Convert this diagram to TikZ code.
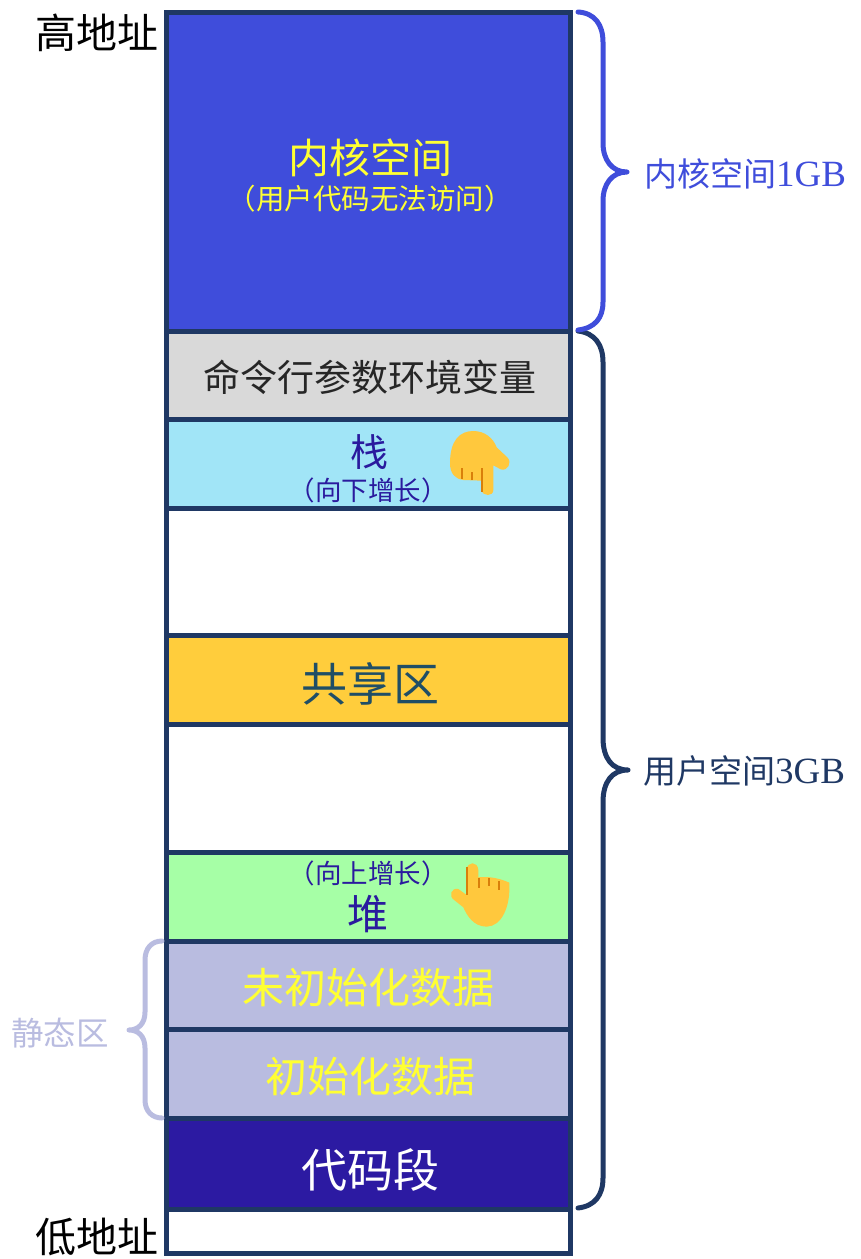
\documentclass[tikz,border=0pt]{standalone}
\usepackage{fontspec}
\setmainfont{Liberation Serif}
\newfontfamily\cjk{Noto Sans CJK SC}
\definecolor{edgec}{HTML}{1F3864}
\definecolor{kernc}{HTML}{3F4DDB}
\definecolor{greyc}{HTML}{D9D9D9}
\definecolor{stackc}{HTML}{A1E5F7}
\definecolor{sharec}{HTML}{FFCD3C}
\definecolor{heapc}{HTML}{A6FFA6}
\definecolor{statc}{HTML}{B9BCE0}
\definecolor{codec}{HTML}{2C1AA2}
\definecolor{yelc}{HTML}{FFFF33}
\definecolor{indc}{HTML}{2A1A9E}
\definecolor{tealc}{HTML}{1F4E66}
\definecolor{handc}{HTML}{FFC83D}
\definecolor{foldc}{HTML}{D97F0A}
\newcommand{\fs}[1]{\fontsize{#1}{#1}\selectfont\cjk}
\newcommand{\lat}[1]{\fontsize{#1}{#1}\selectfont\rmfamily}
\begin{document}
\begin{tikzpicture}[x=1pt,y=-1pt,
  seg/.style={draw=edgec,line width=5pt,inner sep=0pt,outer sep=0pt,minimum width=404pt},
  txt/.style={inner sep=0pt,outer sep=0pt,text depth=0pt},
  brace/.style={line width=5pt,line cap=round,line join=round},
  hand/.style={fill=handc,draw=none},
  fold/.style={draw=foldc,line width=2.2pt}]
\useasboundingbox (0,0) rectangle (861,1259);
\node[seg,fill=kernc,minimum height=319pt] (kern) at (368,171.5) {};
\node[seg,fill=greyc,minimum height=88pt] (args) at (368,375) {};
\node[seg,fill=stackc,minimum height=89pt] (stack) at (368,463.5) {};
\node[seg,fill=white,minimum height=127pt] (gap1) at (368,571.5) {};
\node[seg,fill=sharec,minimum height=89pt] (share) at (368,679.5) {};
\node[seg,fill=white,minimum height=128pt] (gap2) at (368,788) {};
\node[seg,fill=heapc,minimum height=89pt] (heap) at (368,896.5) {};
\node[seg,fill=statc,minimum height=88pt] (bss) at (368,985) {};
\node[seg,fill=statc,minimum height=89pt] (data) at (368,1073.5) {};
\node[seg,fill=codec,minimum height=91pt] (code) at (368,1163.5) {};
\node[seg,fill=white,minimum height=44pt] (low) at (368,1231) {};
% labels
\node[txt,text=yelc] (t1) at (370,156) {\fs{41}内核空间};
\node[txt,text=yelc] (t2) at (370,197) {\fs{28.5}（用户代码无法访问）};
\node[txt,text=black!85] (t3) at (370,376) {\fs{37}命令行参数环境变量};
\node[txt,text=indc] (t4) at (369,451) {\fs{38}栈};
\node[txt,text=indc] (t5) at (368,489) {\fs{26.5}（向下增长）};
\node[txt,text=tealc] (t6) at (370,682) {\fs{46}共享区};
\node[txt,text=indc] (t7) at (368,872) {\fs{26.5}（向上增长）};
\node[txt,text=indc] (t8) at (368,912) {\fs{41}堆};
\node[txt,text=yelc] (t9) at (368,986) {\fs{42}未初始化数据};
\node[txt,text=yelc] (t10) at (370,1075) {\fs{42}初始化数据};
\node[txt,text=white] (t11) at (370,1168) {\fs{46}代码段};
\node[txt,text=black] (t12) at (97,31) {\fs{41}高地址};
\node[txt,text=black] (t13) at (97,1235) {\fs{41}低地址};
\node[txt,text=kernc] (t14) at (745,173) {\fs{33}内核空间\lat{37}1GB};
\node[txt,text=edgec] (t15) at (744,770) {\fs{33}用户空间\lat{37}3GB};
\node[txt,text=statc] (t16) at (60,1032) {\fs{32.5}静态区};
% braces
\draw[brace,draw=edgec] (578,331) .. controls (595,333) and (603,345) .. (603,362)
  -- (603,738) .. controls (603,758) and (612,770) .. (628,770)
  .. controls (612,770) and (603,782) .. (603,802)
  -- (603,1178) .. controls (603,1195) and (595,1206) .. (578,1208);
\draw[brace,draw=kernc] (578,12) .. controls (595,13) and (603,25) .. (603,42)
  -- (603,143) .. controls (603,160) and (612,172) .. (627,172)
  .. controls (612,172) and (603,184) .. (603,201)
  -- (603,302) .. controls (603,318) and (595,328) .. (578,330);
\draw[brace,draw=statc] (162,941) .. controls (152,941) and (145,948) .. (145,960)
  -- (145,1012) .. controls (145,1024) and (138,1030) .. (129,1030)
  .. controls (138,1030) and (145,1036) .. (145,1048)
  -- (145,1100) .. controls (145,1111) and (152,1118) .. (162,1118);
% hand pointing down
\begin{scope}[shift={(430,420)},x=0.3333pt,y=-0.3333pt]
\fill[hand] (60,130) .. controls (60,60) and (90,33) .. (130,33)
  .. controls (165,33) and (190,55) .. (200,82) -- (232,112)
  .. controls (248,128) and (232,155) .. (212,148) -- (190,136) -- (190,210)
  .. controls (190,230) and (158,230) .. (155,210) -- (155,182) -- (100,180)
  .. controls (75,177) and (60,160) .. (60,130) -- cycle;
\draw[fold] (157,145) -- (157,215);
\draw[fold] (127,157) -- (127,180);
\draw[fold] (97,145) -- (97,176);
\end{scope}
% hand pointing up
\begin{scope}[shift={(430,850)},x=0.3333pt,y=-0.3333pt]
\fill[hand] (110,135) -- (110,60) .. controls (112,33) and (143,33) .. (145,60) -- (145,82)
  .. controls (175,78) and (210,85) .. (238,98)
  .. controls (242,170) and (215,229) .. (170,230)
  .. controls (130,230) and (110,195) .. (100,172) -- (75,152)
  .. controls (52,138) and (65,112) .. (85,117) -- cycle;
\draw[fold] (112,50) -- (112,135);
\draw[fold] (147,85) -- (147,113);
\draw[fold] (178,85) -- (178,107);
\draw[fold] (208,93) -- (208,120);
\end{scope}
\end{tikzpicture}
\end{document}
